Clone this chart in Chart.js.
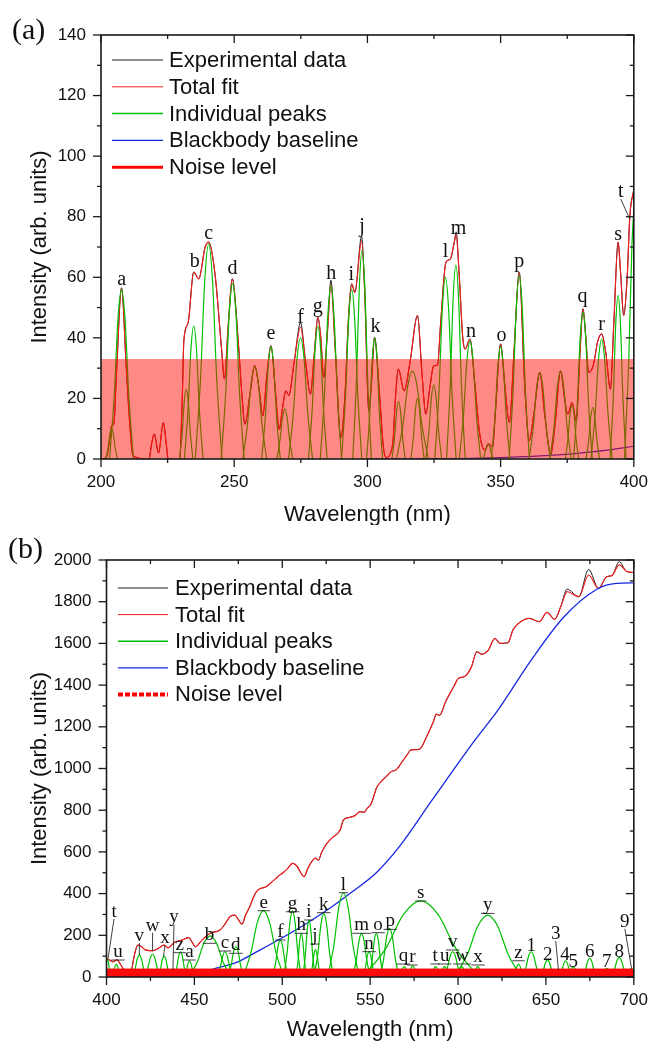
<!DOCTYPE html>
<html>
<head>
<meta charset="UTF-8">
<title>Spectral fit</title>
<script src="https://cdn.jsdelivr.net/npm/chart.js"></script>
<style>
    body { margin: 0; background: #fff; }
    .panel { position: absolute; left: 0; width: 661px; }
</style>
</head>
<body>
<div class="panel" style="top:0px;height:525px"><canvas id="chartA" width="661" height="525"></canvas></div>
<div class="panel" style="top:525px;height:517px"><canvas id="chartB" width="661" height="517"></canvas></div>
<script>
// ---------- panel (a) data, 200-400 nm ----------
const aFitNm = [200,202,203.2,204,204.8,205.8,207.7,209.5,211,212,218,219,220,221.6,223.4,224.5,225.2,229.5,230.5,231.1,
    232.7,234.8,236.7,239.1,240.4,242.8,245.3,246.3,247.8,249.3,251.5,253,254,256,257.7,259.5,260.7,262.3,263.8,265.5,
    266.9,268,269.4,270.5,272.5,274.9,276.8,278.6,280,281.4,282.5,283.6,285,286.3,288,290,291.5,293,294.1,295.3,
    297.8,299,300.5,301.5,302.7,304.5,306,307,309.5,310.5,311.6,313.8,316,318.8,320.5,321.9,323.5,324.9,326.3,327.5,
    329.5,331.1,332.7,333.3,334.5,335.8,336.7,338.5,340.3,342.2,344,344.7,345.5,347,348,350,351.5,353.3,355,357,
    359,360.7,362.5,364.7,366.5,368.8,370.5,372.5,374,375.2,376.8,378.4,379.8,380.9,382,383,384.8,386.5,387.9,389.5,
    391.2,392.5,394.1,395,396.2,397.5,398.5,400];
const aFitVal = [0,0.5,6,11,11.5,28,56.5,30,9,1,0,5,8.2,2,12,5,0,0,20,39,
    45,61.7,59.5,70,71.6,61,35.8,26.4,44.6,59.5,39,20,11.5,22,30.8,22,14.2,28,37.4,22,
    9.8,16,22.5,21,32,43.5,32,21.4,34,46.8,40,26.9,42,57.3,35,7,20,48,57.8,55,
    72,55,16,25,40.2,22,4,0.5,5,20,29.7,22.5,32,47.4,28,14.8,24,30.8,31,45,
    65,66,72,74,60,40,36.3,39.6,25,8,3,3.8,5,4,15,38,25,12,35,61.7,
    25,6,15,28.6,15,1.5,12,29.1,20,14.8,18.6,12.6,35,49.6,40,28.6,31,39,41.3,35,
    23,45,71.6,62,47.4,60,80,89];
const aExpVal = [0,0.5,6,11,11.5,28,56.5,30,9,1,0,5,8.2,2,12,5,0,0,20,39,
    45,61.7,59.5,70,71.6,61,35.8,26.4,44.6,59.5,39,20,11.5,22,30.8,22,14.2,28,37.4,22,
    9.8,16,22.5,21,32,45,32,21.4,34,46.8,40,26.9,42,59,35,7,20,48,57.8,55,
    73.5,55,16,25,40.2,22,4,0.5,5,20,29.7,22.5,32,47.4,28,14.8,24,30.8,31,45,
    65,66,72,75,60,40,36.3,39.6,25,8,3,3.8,5,4,15,38,25,12,35,61.7,
    25,6,15,28.6,15,1.5,12,29.1,20,14.8,18.6,12.6,35,49.6,40,28.6,31,39,41.3,35,
    23,45,71.6,62,47.4,60,80,89];
const aBbNm = [300, 325, 350, 365, 378, 390, 400];
const aBbVal = [0, 0.1, 0.5, 1, 1.8, 2.9, 4.2];
const aNoiseLevel = 33;
// individual peaks: centre, height, half base width
const aPeakNm = [204,207.7,232,234.8,240.4,249.4,257.7,263.8,269,274.9,281.4,286.3,294.1,298,302.7,311.7,316.9,318.8,
    324.9,329.3,333.2,338.5,345.3,350,357,364.7,372.5,376.8,380.9,384.6,387.9,394.1,400.5];
const aPeakVal = [10,56,23,44,71,58,30.5,37,16.5,40,44,57,56,69,40,19,29,20,
    24.5,60,64,39,5,37,60.5,28.5,29,18,48.5,17,39.5,54,86];
const aPeakHw = [2.2,4.5,2.5,3.5,5,4.3,4.5,3.5,3,4.5,3.5,4,3.8,3.5,3,2.5,6,2.5,
    3,4,3.5,4,2,3.5,3.8,4,4,2.5,3.5,2.5,4,3,4];
const aLabText = ['a','b','c','d','e','f','g','h','i','j','k','l','m','n','o','p','q','r','s','t'];
const aLabNm = [207.8,235.2,240.4,249.4,263.8,274.9,281.4,286.4,293.9,298,303,329.3,334.2,338.9,350.3,357,380.7,387.9,394.1,395.1];
const aLabVal = [57.5,63.5,72.5,61,39.5,45,48.5,59.5,59.2,75,41.8,66.7,74.4,40.4,39,63.3,51.8,42.6,72.4,86.5];
const aLeadNm = [null,null,null,null,null,null,null,null,null,null,null,null,null,null,null,null,null,null,null,398.4];
const aLeadVal = [null,null,null,null,null,null,null,null,null,null,null,null,null,null,null,null,null,null,null,79.4];

// ---------- panel (b) data, 400-700 nm ----------
const bFitNm = [400,402,403.7,406,408,410.3,414,416,417.8,420,422,426.2,429,432.8,435,438.4,443,446.8,448.5,450.6,
    454.3,459,464.6,467.5,470.2,473,475,477.1,479,481.5,484,486.1,490.8,494,497.4,501.1,503,505.8,508.5,510.5,
    512.4,514.5,516.1,518.9,520.5,522.5,525.4,528,532.9,534.8,538.5,541.5,544.2,546.5,548.3,550.5,552.6,553.5,556,559,
    562,565,568,571,573.2,577.9,582.6,586,587.6,589.5,592.9,597.5,600.3,603.5,607.5,610.7,613.5,617,621,623.8,
    628.4,631.2,634,640.6,646.2,650.6,655,658.4,662.1,668.7,674.3,679.9,684.6,687.5,691.7,695.9,700];
const bFitVal = [90,80,73,82,60,34,34,110,153,145,130,126,135,153,140,165,177,189,170,145,
    177,210,225,255,289,297,275,253,295,337,390,417,433,455,481,505,520,545,530,500,
    481,520,545,570,560,600,641,665,705,753,766,775,793,790,809,830,881,905,935,960,
    985,995,1030,1065,1089,1092,1161,1225,1261,1255,1320,1392,1433,1440,1485,1560,1548,1565,1624,1600,
    1603,1664,1693,1720,1704,1749,1716,1776,1848,1824,1928,1864,1920,1925,1977,1945,1940];
const bExpVal = [90,80,73,82,60,34,34,110,153,145,130,126,135,153,140,165,177,189,170,145,
    177,210,225,255,289,297,275,253,295,337,390,417,433,455,481,505,520,545,530,500,
    481,520,545,570,560,600,641,665,705,753,766,775,793,790,809,830,881,905,935,960,
    985,995,1030,1065,1089,1092,1161,1225,1261,1255,1320,1392,1433,1440,1485,1560,1548,1565,1624,1600,
    1603,1664,1693,1720,1704,1749,1716,1776,1860,1824,1955,1864,1920,1925,1992,1945,1940];
const bBbNm = [455,460,474,487,501,514,527,540,553.5,566.6,585.3,609.7,622.8,641.6,660.3,679,690,700];
const bBbVal = [20,36,70,128,193,258,330,410,500,625,849,1137,1281,1520,1728,1860,1888,1890];
const bNoiseLevel = 38;
const bPeakNm = [400.5,405.6,418.7,426.2,432.8,437.8,442.1,447.2,459,467.4,473.6,489.3,498.9,505.8,510.8,515.2,518.9,523.6,
    534.8,545.1,549.4,553.5,561,569.4,574.2,578.8,587.2,592.3,597,602.2,611.2,616.9,634.4,641.6,650.9,657,661.2,665.5,
    674.9,684.6,691.7,698.6];
const bPeakVal = [85,62,105,109,100,34,121,77,197,121,145,318,177,317,209,273,130,305,
    404,209,121,209,233,50,53,365,50,50,121,50,50,297,62,121,82,34,78,50,
    90,42,94,42];
const bPeakHw = [2,2.5,4,4.5,3.5,2,3.5,3,12,4.5,4.5,11.7,4.5,5,3,3.5,3,5.5,
    9,5,3.5,4,5.5,3,3,33,3,3,5,3,3,19,3,5,4,2,3.5,3,
    4,3,4.5,2.5];
const bLabText = ['t','u','v','w','x','y','z','a','b','c','d','e','f','g','h','i','j','k','l','m','n',
    'o','p','q','r','s','t','u','v','w','x','y','z','1','2','3','4','5','6','7','8','9'];
const bLabNm = [404.3,406.5,418.7,426.2,433.3,438.4,441.7,447.2,458.6,467.4,473.6,489.5,498.9,505.8,510.8,515.1,518.5,523.6,534.8,545.1,549.4,
    554.5,561.4,568.9,574.1,578.8,586.9,592.4,597,602.3,611.3,616.9,634.4,641.6,651,655.6,660.8,665.5,674.9,684.6,691.7,694.9];
const bLabVal = [289,81.5,172.7,222,161.5,262,116.6,81.5,161.5,124.7,113.6,318,177.5,313,209.6,273.4,158,308.5,404,209.6,121.5,
    212.6,228.6,62.4,57.6,364.5,62.4,62.4,129.5,62.4,57.6,305,78,126,81.5,182,81.5,49.6,97.5,49.6,97.5,241];
const bLeadNm = [400.9,null,418.7,426.2,432.4,437.8,null,null,null,null,null,null,null,null,null,null,null,null,null,null,null,
    null,null,null,null,null,null,null,null,null,null,null,null,null,null,657.1,null,null,null,null,null,698.7];
const bLeadVal = [89.6,null,105.5,126,97.6,33.6,null,null,null,null,null,null,null,null,null,null,null,null,null,null,null,
    null,null,null,null,null,null,null,null,null,null,null,null,null,null,33.6,null,null,null,null,null,41.7];

const seriesNames = ['Experimental data', 'Total fit', 'Individual peaks', 'Blackbody baseline', 'Noise level'];
// shape of one fitted peak, in units of its half base width / height
const peakOffsets = [-1, -0.6, -0.3, 0, 0.3, 0.6, 1];
const peakFractions = [0, 0.38, 0.82, 1, 0.82, 0.38, 0];

const SANS = '"Liberation Sans", Arial, sans-serif';
const SERIF = '"Liberation Serif", "Times New Roman", serif';
const C_EXP = '#1e1e1e', C_FIT = '#f02020', C_PEAK = '#00c000', C_BB = '#1428e0';

function pts(xs, ys) {
    return xs.map((x, i) => ({ x: x, y: ys[i] }));
}

function peakSets(nm, val, hw) {
    return nm.map((c, i) => ({
        data: peakOffsets.map((o, k) => ({ x: c + o * hw[i], y: val[i] * peakFractions[k] })),
        borderColor: C_PEAK, borderWidth: 1.2, cubicInterpolationMode: 'monotone', order: 2
    }));
}

function line(ctx, x1, y1, x2, y2) {
    ctx.beginPath(); ctx.moveTo(x1, y1); ctx.lineTo(x2, y2); ctx.stroke();
}

const decor = {
    id: 'decor',
    afterDatasetsDraw(chart, args, o) {
        const ctx = chart.ctx, a = chart.chartArea, xs = chart.scales.x, ys = chart.scales.y;
        ctx.save();
        // frame and mirrored ticks
        ctx.strokeStyle = '#1a1a1a';
        ctx.lineWidth = 1.6;
        ctx.strokeRect(a.left, a.top, a.right - a.left, a.bottom - a.top);
        ctx.lineWidth = 1.3;
        let n = 0;
        for (let v = xs.min; v <= xs.max + 1e-6; v += o.xMinor, n++) {
            const len = n % 2 === 0 ? 8 : 4, px = xs.getPixelForValue(v);
            line(ctx, px, a.bottom, px, a.bottom + len);
            line(ctx, px, a.top, px, a.top + len);
        }
        n = 0;
        for (let v = ys.min; v <= ys.max + 1e-6; v += o.yMinor, n++) {
            const len = n % 2 === 0 ? 8 : 4, py = ys.getPixelForValue(v);
            line(ctx, a.left - len, py, a.left, py);
            line(ctx, a.right - len, py, a.right, py);
        }
        // axis titles and panel letter
        ctx.fillStyle = '#111';
        ctx.font = '22px ' + SANS;
        ctx.textAlign = 'center';
        ctx.textBaseline = 'middle';
        ctx.fillText('Wavelength (nm)', (a.left + a.right) / 2, o.xTitleY);
        ctx.save();
        ctx.translate(o.yTitleX, (a.top + a.bottom) / 2);
        ctx.rotate(-Math.PI / 2);
        ctx.fillText('Intensity (arb. units)', 0, 0);
        ctx.restore();
        ctx.font = '30px ' + SERIF;
        ctx.textAlign = 'left';
        ctx.fillText(o.panel, o.panelX, o.panelY);
        // legend
        const lg = o.legend;
        lg.styles.forEach((s, i) => {
            const yy = lg.y + i * lg.dy;
            ctx.strokeStyle = s.color;
            ctx.lineWidth = s.width;
            ctx.setLineDash(s.dash || []);
            line(ctx, lg.x1, yy, lg.x2, yy);
            ctx.setLineDash([]);
            ctx.fillStyle = '#111';
            ctx.font = '22px ' + SANS;
            ctx.textAlign = 'left';
            ctx.textBaseline = 'middle';
            ctx.fillText(seriesNames[i], lg.tx, yy + 1);
        });
        // peak letters
        const lb = o.labels;
        ctx.font = lb.size + 'px ' + SERIF;
        ctx.textAlign = 'center';
        ctx.textBaseline = 'alphabetic';
        ctx.strokeStyle = '#111';
        ctx.lineWidth = 0.8;
        lb.text.forEach((t, i) => {
            const px = xs.getPixelForValue(lb.nm[i]), py = ys.getPixelForValue(lb.val[i]);
            const lead = lb.leadNm[i] != null;
            if (lb.underline && !lead && /[a-z]/.test(t)) {
                const w = ctx.measureText(t).width;
                ctx.fillText(t, px, py - 3);
                line(ctx, px - w / 2 - 2, py, px + w / 2 + 2, py);
            } else {
                ctx.fillText(t, px, py);
            }
            if (lead) {
                line(ctx, px, py + 2, xs.getPixelForValue(lb.leadNm[i]), ys.getPixelForValue(lb.leadVal[i]));
            }
        });
        ctx.restore();
    }
};

function makeChart(id, cfg) {
    const tickFont = { family: SANS, size: 17 };
    return new Chart(document.getElementById(id), {
        type: 'line',
        data: { datasets: cfg.datasets },
        options: {
            responsive: false,
            animation: false,
            devicePixelRatio: 1,
            layout: { padding: { top: cfg.top, right: cfg.right, left: 0, bottom: 0 } },
            elements: { point: { radius: 0 }, line: { borderWidth: 1.2, fill: false } },
            plugins: { legend: { display: false }, tooltip: { enabled: false }, decor: cfg.decor },
            scales: {
                x: {
                    type: 'linear', min: cfg.xMin, max: cfg.xMax,
                    grid: { display: false, drawTicks: false }, border: { display: false },
                    ticks: { stepSize: cfg.xStep, padding: 13, font: tickFont, color: '#111', maxRotation: 0, autoSkip: false, callback: v => String(v) },
                    afterFit: s => { s.height = cfg.xHeight; }
                },
                y: {
                    min: cfg.yMin, max: cfg.yMax,
                    grid: { display: false, drawTicks: false }, border: { display: false },
                    ticks: { stepSize: cfg.yStep, padding: 15, font: tickFont, color: '#111', autoSkip: false, callback: v => String(v) },
                    afterFit: s => { s.width = cfg.yWidth; }
                }
            }
        },
        plugins: [decor]
    });
}

makeChart('chartA', {
    top: 35, right: 20, xHeight: 66, yWidth: 101,
    xMin: 200, xMax: 400, xStep: 50, yMin: 0, yMax: 140, yStep: 20,
    datasets: [
        { data: pts(aFitNm, aExpVal), borderColor: C_EXP, borderWidth: 1, cubicInterpolationMode: 'monotone', order: 5 },
        { data: pts(aFitNm, aFitVal), borderColor: C_FIT, borderWidth: 1.2, cubicInterpolationMode: 'monotone', order: 4 },
        { data: pts(aBbNm, aBbVal), borderColor: C_BB, borderWidth: 1.2, cubicInterpolationMode: 'monotone', order: 3 },
        ...peakSets(aPeakNm, aPeakVal, aPeakHw),
        { data: [{ x: 200, y: aNoiseLevel }, { x: 400, y: aNoiseLevel }], borderWidth: 0, borderColor: 'rgba(0,0,0,0)',
          backgroundColor: 'rgba(255,10,0,0.48)', fill: 'origin', order: 1 }
    ],
    decor: {
        xMinor: 25, yMinor: 10, xTitleY: 515, yTitleX: 40,
        panel: '(a)', panelX: 12, panelY: 31,
        legend: {
            x1: 112, x2: 163, tx: 169, y: 60, dy: 26.8,
            styles: [{ color: C_EXP, width: 1 }, { color: C_FIT, width: 1 }, { color: C_PEAK, width: 1.5 },
                     { color: C_BB, width: 1.2 }, { color: '#ff0000', width: 3 }]
        },
        labels: { text: aLabText, nm: aLabNm, val: aLabVal, leadNm: aLeadNm, leadVal: aLeadVal, size: 20, underline: false }
    }
});

makeChart('chartB', {
    top: 35, right: 20, xHeight: 65, yWidth: 106.5,
    xMin: 400, xMax: 700, xStep: 50, yMin: 0, yMax: 2000, yStep: 200,
    datasets: [
        { data: pts(bFitNm, bExpVal), borderColor: C_EXP, borderWidth: 1, cubicInterpolationMode: 'monotone', order: 5 },
        { data: pts(bFitNm, bFitVal), borderColor: C_FIT, borderWidth: 1.2, cubicInterpolationMode: 'monotone', order: 4 },
        { data: pts(bBbNm, bBbVal), borderColor: C_BB, borderWidth: 1.3, cubicInterpolationMode: 'monotone', order: 3 },
        ...peakSets(bPeakNm, bPeakVal, bPeakHw),
        { data: [{ x: 400, y: bNoiseLevel }, { x: 700, y: bNoiseLevel }], borderWidth: 1, borderColor: '#ff0000',
          backgroundColor: '#ff0a0a', fill: 'origin', order: 1 }
    ],
    decor: {
        xMinor: 25, yMinor: 100, xTitleY: 505, yTitleX: 40,
        panel: '(b)', panelX: 8, panelY: 25,
        legend: {
            x1: 118, x2: 168, tx: 175, y: 63, dy: 26.6,
            styles: [{ color: C_EXP, width: 1 }, { color: C_FIT, width: 1 }, { color: C_PEAK, width: 1.5 },
                     { color: C_BB, width: 1.2 }, { color: '#ff0000', width: 4, dash: [5, 2] }]
        },
        labels: { text: bLabText, nm: bLabNm, val: bLabVal, leadNm: bLeadNm, leadVal: bLeadVal, size: 19, underline: true }
    }
});
</script>
</body>
</html>
